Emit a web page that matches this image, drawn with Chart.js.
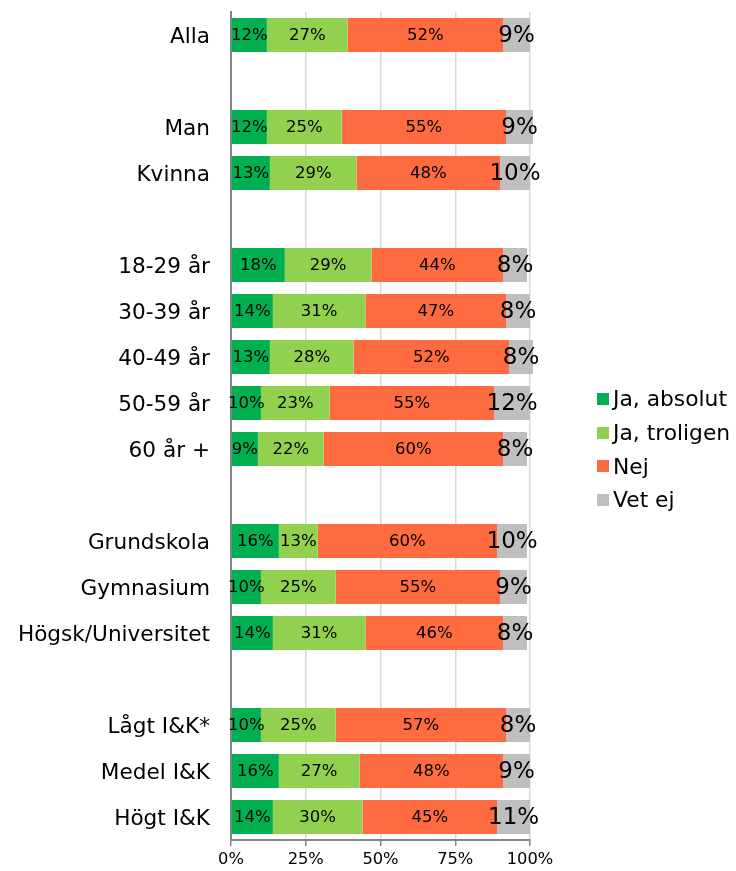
<!DOCTYPE html>
<html lang="sv">
<head>
<meta charset="utf-8">
<title>Svar per grupp</title>
<script src="https://cdn.jsdelivr.net/npm/chart.js@4/dist/chart.umd.min.js"></script>
<style>
  html, body { margin: 0; padding: 0; background: #fff; }
  #wrap { position: relative; width: 736px; height: 871px; }
  #chart { display: block; }
  #legend { position: absolute; left: 597px; top: 382px; font-family: 'DejaVu Sans', Verdana, sans-serif; font-size: 21.8px; color: #000; }
  #legend div { height: 33.7px; display: flex; align-items: center; white-space: nowrap; }
  #legend span.box { width: 12px; height: 12px; margin-right: 4px; display: inline-block; }
</style>
</head>
<body>
<div id="wrap">
  <canvas id="chart" width="736" height="871"></canvas>
  <div id="legend"></div>
</div>
<script>
// Rows, blank strings act as spacers between groups
const categories = [
  'Alla', '',
  'Man', 'Kvinna', '',
  '18-29 år', '30-39 år', '40-49 år', '50-59 år', '60 år +', '',
  'Grundskola', 'Gymnasium', 'Högsk/Universitet', '',
  'Lågt I&K*', 'Medel I&K', 'Högt I&K'
];

const seriesNames = ['Ja, absolut', 'Ja, troligen', 'Nej', 'Vet ej'];
const seriesColors = ['#00B050', '#92D050', '#FF6B41', '#BFBFBF'];

const jaAbsolut  = [12, null, 12, 13, null, 18, 14, 13, 10, 9, null, 16, 10, 14, null, 10, 16, 14];
const jaTroligen = [27, null, 25, 29, null, 29, 31, 28, 23, 22, null, 13, 25, 31, null, 25, 27, 30];
const nej        = [52, null, 55, 48, null, 44, 47, 52, 55, 60, null, 60, 55, 46, null, 57, 48, 45];
const vetEj      = [9,  null, 9,  10, null, 8,  8,  8,  12, 8,  null, 10, 9,  8,  null, 8,  9,  11];

const xTicks = [0, 25, 50, 75, 100];

const FONT = "'DejaVu Sans', Verdana, sans-serif";

// Percent labels in the middle of each segment; the last series gets a larger font
const segmentLabels = {
  id: 'segmentLabels',
  afterDatasetsDraw(chart) {
    const ctx = chart.ctx;
    ctx.save();
    ctx.fillStyle = '#000';
    ctx.textAlign = 'center';
    ctx.textBaseline = 'middle';
    chart.data.datasets.forEach((ds, di) => {
      const meta = chart.getDatasetMeta(di);
      ctx.font = (di === 3 ? '23px ' : '16.5px ') + FONT;
      meta.data.forEach((bar, i) => {
        const v = ds.data[i];
        if (v == null) return;
        const p = bar.getProps(['x', 'y', 'base'], true);
        ctx.fillText(v + '%', (p.x + p.base) / 2, p.y + 1);
      });
    });
    ctx.restore();
  }
};

Chart.defaults.font.family = FONT;
Chart.defaults.color = '#000';

const seriesData = [jaAbsolut, jaTroligen, nej, vetEj];

new Chart(document.getElementById('chart'), {
  type: 'bar',
  data: {
    labels: categories,
    datasets: seriesNames.map((name, i) => ({
      label: name,
      data: seriesData[i],
      backgroundColor: seriesColors[i],
      borderWidth: 0,
      categoryPercentage: 1,
      barPercentage: 0.74,
      clip: false
    }))
  },
  options: {
    indexAxis: 'y',
    responsive: false,
    animation: false,
    layout: { padding: { top: 12, right: 206, bottom: 0, left: 0 } },
    plugins: {
      legend: { display: false },
      tooltip: { enabled: false }
    },
    scales: {
      x: {
        stacked: true,
        min: 0,
        max: 100,
        afterBuildTicks: (scale) => { scale.ticks = xTicks.map(v => ({ value: v })); },
        afterFit: (scale) => { scale.height = 31; },
        ticks: {
          font: { size: 16.3 },
          color: '#000',
          padding: 4,
          callback: (v) => v + '%'
        },
        grid: {
          color: '#D9D9D9',
          lineWidth: 1.5,
          tickColor: '#868686',
          tickLength: 6
        },
        border: { color: '#868686', width: 2 }
      },
      y: {
        stacked: true,
        afterFit: (scale) => {
          scale.width = 231;
          // labels sit well inside the rows, no extra room needed above/below
          scale.paddingTop = 0;
          scale.paddingBottom = 0;
        },
        ticks: {
          font: { size: 21.6 },
          color: '#000',
          padding: 21,
          labelOffset: 2
        },
        grid: { display: false, drawTicks: false },
        border: { color: '#868686', width: 2 }
      }
    }
  },
  plugins: [segmentLabels]
});

// Legend entries built from the series
const legendEl = document.getElementById('legend');
seriesNames.forEach((name, i) => {
  const row = document.createElement('div');
  const box = document.createElement('span');
  box.className = 'box';
  box.style.background = seriesColors[i];
  row.appendChild(box);
  row.appendChild(document.createTextNode(name));
  legendEl.appendChild(row);
});
</script>
</body>
</html>
